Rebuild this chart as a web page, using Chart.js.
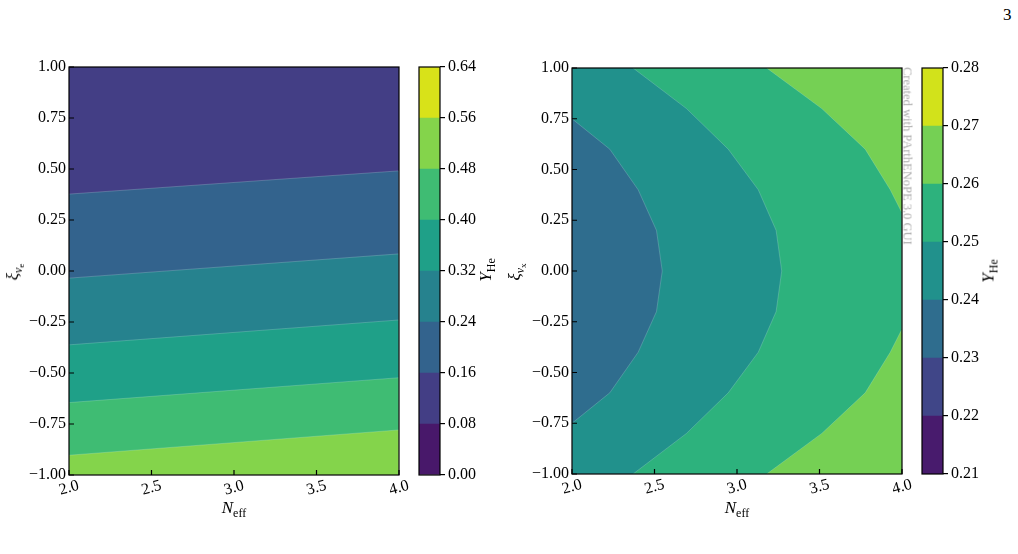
<!DOCTYPE html>
<html>
<head>
<meta charset="utf-8">
<script src="https://cdn.jsdelivr.net/npm/chart.js@4.4.1/dist/chart.umd.min.js"></script>
<style>
  body { margin: 0; background: #fff; }
  #wrap { position: relative; width: 1018px; height: 554px; overflow: hidden; font-family: "Liberation Serif", serif; color: #000; }
  canvas { position: absolute; top: 0; }
  .lbl { position: absolute; font-size: 17px; line-height: 17px; white-space: nowrap; }
  .lbl sub { font-size: 12px; vertical-align: baseline; position: relative; top: 4px; }
  .lbl sub sub { font-size: 9px; top: 2px; }
  .rot { transform: translate(-50%, -50%) rotate(-90deg); }
  .hc { transform: translateX(-50%); }
  .wm { position: absolute; font-size: 12.5px; color: #ababab; white-space: nowrap; transform: translate(-50%, -50%) rotate(90deg); }
</style>
</head>
<body>
<div id="wrap">
  <canvas id="mainE" width="410" height="554" style="left:0"></canvas>
  <canvas id="barE" width="80" height="554" style="left:410px"></canvas>
  <canvas id="mainX" width="410" height="554" style="left:503px"></canvas>
  <canvas id="barX" width="80" height="554" style="left:913px"></canvas>

  <div class="lbl" style="left:1003px;top:6px">3</div>
  <div class="lbl rot" style="left:14px;top:272px"><i>ξ</i><sub><i>ν</i><sub>e</sub></sub></div>
  <div class="lbl hc" style="left:234px;top:499px"><i>N</i><sub>eff</sub></div>
  <div class="lbl rot" style="left:486px;top:270px"><i>Y</i><sub>He</sub></div>
  <div class="lbl rot" style="left:516px;top:272px"><i>ξ</i><sub><i>ν</i><sub>x</sub></sub></div>
  <div class="lbl hc" style="left:737px;top:499px"><i>N</i><sub>eff</sub></div>
  <div class="lbl rot" style="left:989px;top:271px"><i>Y</i><sub>He</sub></div>
  <div class="wm" style="left:907px;top:156px">Created with PArthENoPE 3.0 GUI</div>
</div>
<script>
const X_MIN = 2, X_MAX = 4, Y_MIN = -1, Y_MAX = 1;
const xTicks = [2.0, 2.5, 3.0, 3.5, 4.0];
const yTicks = [-1, -0.75, -0.5, -0.25, 0, 0.25, 0.5, 0.75, 1];

// panel 1: xi_nu_e -- contour lines are straight, xi read at N_eff = 2 and N_eff = 4
const levelsE = [0, 0.08, 0.16, 0.24, 0.32, 0.40, 0.48, 0.56, 0.64];
const colorsE = ['#48186a', '#433e85', '#33638d', '#26828e', '#1fa088', '#3fbc73', '#84d44b', '#d8e219'];
const lineLevelsE = [0.16, 0.24, 0.32, 0.40, 0.48];
const lineAt2E = [0.377, -0.035, -0.362, -0.645, -0.903];
const lineAt4E = [0.491, 0.084, -0.240, -0.523, -0.779];

// panel 2: xi_nu_x -- contour arcs (N_eff, xi)
const levelsX = [0.21, 0.22, 0.23, 0.24, 0.25, 0.26, 0.27, 0.28];
const colorsX = ['#481b6d', '#404688', '#2f6d8e', '#21918c', '#2db27d', '#75d054', '#d2e21b'];
const arc024N = [2.000, 2.229, 2.401, 2.512, 2.547, 2.512, 2.401, 2.229, 2.000];
const arc024Xi = [0.75, 0.60, 0.40, 0.20, 0.00, -0.20, -0.40, -0.60, -0.75];
const arc025N = [2.370, 2.694, 2.947, 3.129, 3.237, 3.271, 3.237, 3.129, 2.947, 2.694, 2.370];
const arc025Xi = [1.00, 0.80, 0.60, 0.40, 0.20, 0.00, -0.20, -0.40, -0.60, -0.80, -1.00];
const arc026N = [3.180, 3.514, 3.777, 3.929, 4.000, 4.000, 3.929, 3.777, 3.514, 3.180];
const arc026Xi = [1.00, 0.80, 0.60, 0.40, 0.286, -0.286, -0.40, -0.60, -0.80, -1.00];

const FONT = { family: 'Liberation Serif', size: 16 };
const fmt2 = v => v.toFixed(2).replace('-', '−');

// frame, inward ticks and slanted N_eff labels (matplotlib look)
const frameAxes = {
  id: 'frameAxes',
  afterDraw(chart, args, opts) {
    const { ctx, chartArea: a, scales } = chart;
    ctx.save();
    ctx.strokeStyle = '#000';
    ctx.lineWidth = 1.2;
    if (opts.ticks) {
      const x = scales.x, y = scales.y;
      ctx.beginPath();
      x.ticks.forEach(t => { const px = x.getPixelForValue(t.value); ctx.moveTo(px, a.bottom); ctx.lineTo(px, a.bottom - 5); });
      y.ticks.forEach(t => { const py = y.getPixelForValue(t.value); ctx.moveTo(a.left, py); ctx.lineTo(a.left + 5, py); });
      ctx.stroke();
      ctx.font = '16px "Liberation Serif"';
      ctx.fillStyle = '#000';
      ctx.textAlign = 'center';
      ctx.textBaseline = 'middle';
      x.ticks.forEach(t => {
        ctx.save();
        ctx.translate(x.getPixelForValue(t.value), a.bottom + 13);
        ctx.rotate(-15 * Math.PI / 180);
        ctx.fillText(t.value.toFixed(1), 0, 0);
        ctx.restore();
      });
    }
    ctx.strokeRect(a.left, a.top, a.width, a.height);
    ctx.restore();
  }
};

const pts = (xs, ys) => xs.map((v, i) => ({ x: v, y: ys[i] }));
const rect = [{ x: X_MIN, y: Y_MAX }, { x: X_MAX, y: Y_MAX }, { x: X_MAX, y: Y_MIN }, { x: X_MIN, y: Y_MIN }];

// layers: first = bottom
function contourChart(id, layers, top, xh) {
  new Chart(document.getElementById(id), {
    type: 'scatter',
    data: {
      datasets: layers.map((l, k) => ({
        data: l.data, backgroundColor: l.color, fill: 'shape', showLine: true,
        borderColor: k ? 'rgba(255,255,255,0.3)' : l.color, borderWidth: 0.6,
        pointRadius: 0, order: layers.length - k,
      })),
    },
    options: {
      responsive: false, animation: false, events: [],
      layout: { padding: { top: top, right: 11, left: 0, bottom: 0 } },
      plugins: { legend: { display: false }, tooltip: { enabled: false }, frameAxes: { ticks: true } },
      scales: {
        x: { type: 'linear', min: X_MIN, max: X_MAX,
          afterBuildTicks: s => { s.ticks = xTicks.map(v => ({ value: v })); },
          afterFit: s => { s.height = xh; },
          ticks: { display: false }, grid: { display: false, drawTicks: false }, border: { display: false } },
        y: { type: 'linear', min: Y_MIN, max: Y_MAX,
          afterBuildTicks: s => { s.ticks = yTicks.map(v => ({ value: v })); },
          afterFit: s => { s.width = 69; },
          ticks: { callback: v => fmt2(v), font: FONT, color: '#000', padding: 3 },
          grid: { display: false, drawTicks: false }, border: { display: false } },
      },
    },
    plugins: [frameAxes],
  });
}

function colorbar(id, levels, colors, top, bottom) {
  new Chart(document.getElementById(id), {
    type: 'bar',
    data: {
      labels: [''],
      datasets: colors.map((c, i) => ({
        data: [[levels[i], levels[i + 1]]], backgroundColor: c, grouped: false,
        barPercentage: 1, categoryPercentage: 1, borderWidth: 0,
      })),
    },
    options: {
      responsive: false, animation: false, events: [],
      layout: { padding: { left: 9, top: top, bottom: bottom, right: 0 } },
      plugins: { legend: { display: false }, tooltip: { enabled: false }, frameAxes: { ticks: false } },
      scales: {
        x: { display: false },
        y: { position: 'right', min: levels[0], max: levels[levels.length - 1],
          afterBuildTicks: s => { s.ticks = levels.map(v => ({ value: v })); },
          afterFit: s => { s.width = 50; },
          ticks: { callback: v => v.toFixed(2), font: FONT, color: '#000', padding: 3 },
          grid: { drawOnChartArea: false, tickLength: 5, color: '#000', lineWidth: 1.2 },
          border: { display: false } },
      },
    },
    plugins: [frameAxes],
  });
}

// panel 1 layers: full area in the top band colour, then everything below each line
const layersE = [{ data: rect, color: colorsE[1] }];
lineLevelsE.forEach((lev, i) => {
  layersE.push({
    data: [{ x: X_MIN, y: lineAt2E[i] }, { x: X_MAX, y: lineAt4E[i] }, { x: X_MAX, y: Y_MIN }, { x: X_MIN, y: Y_MIN }],
    color: colorsE[levelsE.indexOf(lev)],
  });
});

// panel 2 layers
const layersX = [
  { data: rect, color: colorsX[5] },
  { data: pts(arc026N, arc026Xi).concat([{ x: X_MIN, y: Y_MIN }, { x: X_MIN, y: Y_MAX }]), color: colorsX[4] },
  { data: pts(arc025N, arc025Xi).concat([{ x: X_MIN, y: Y_MIN }, { x: X_MIN, y: Y_MAX }]), color: colorsX[3] },
  { data: pts(arc024N, arc024Xi), color: colorsX[2] },
];

contourChart('mainE', layersE, 67, 79);
colorbar('barE', levelsE, colorsE, 67, 79);
contourChart('mainX', layersX, 68, 80);
colorbar('barX', levelsX, colorsX, 68, 80);
</script>
</body>
</html>
